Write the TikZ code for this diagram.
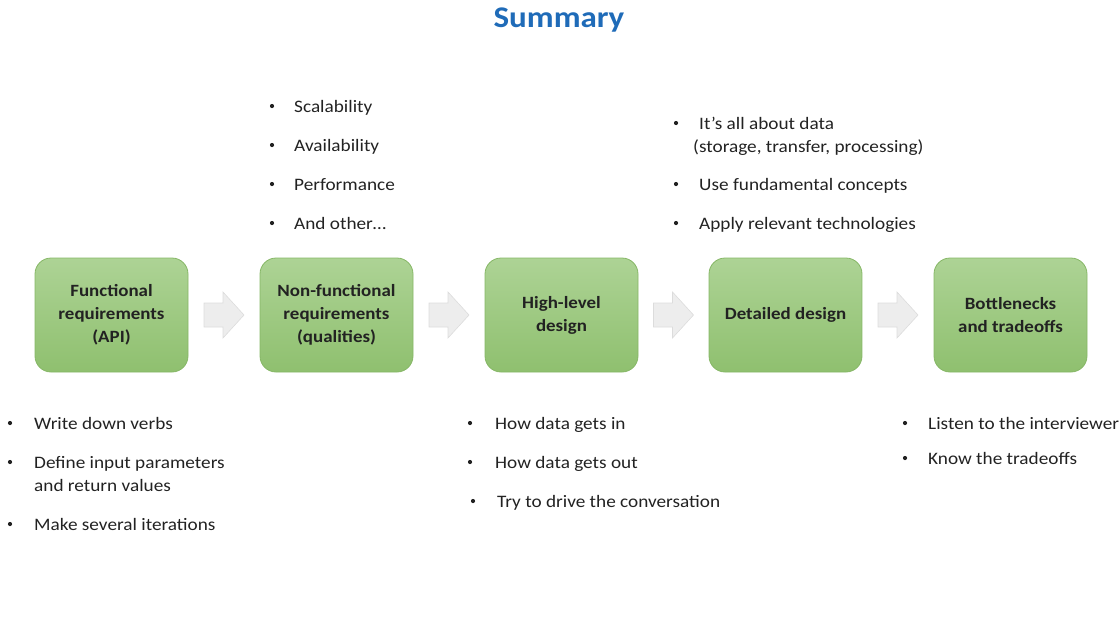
\documentclass[tikz,border=0pt]{standalone}
\usepackage{fontspec}
\setmainfont{Carlito}[FakeStretch=1.1]
\usetikzlibrary{calc}
\definecolor{titleblue}{HTML}{1F6BB8}
\definecolor{boxtop}{HTML}{ADD395}
\definecolor{boxbot}{HTML}{8FC06F}
\definecolor{boxline}{HTML}{86B766}
\definecolor{arrfill}{HTML}{EDEDED}
\definecolor{arrline}{HTML}{DCDCDC}
\definecolor{ink}{HTML}{222222}
\tikzset{
  stagebox/.style={draw=boxline, line width=0.8pt, rounded corners=16pt,
    top color=boxtop, bottom color=boxbot, minimum width=153pt,
    minimum height=114pt, align=center, text=ink,
    font=\fontsize{17.2}{23}\selectfont\bfseries, inner sep=0pt},
  item/.style={anchor=base west, inner sep=0pt, text=ink,
    font=\fontsize{17.5}{20}\selectfont},
  bulletdot/.style={fill=ink},
  blockarrow/.pic={
    \draw[fill=arrfill, draw=arrline, line width=0.6pt]
      (-20,-12) -- (-1,-12) -- (-1,-23) -- (20,0) -- (-1,23) -- (-1,12) -- (-20,12) -- cycle;
  }
}
% bullet dot at (x, y)
\newcommand{\bul}[2]{\fill[bulletdot] (#1,#2) circle (2.1pt);}
\begin{document}
\begin{tikzpicture}[x=1pt, y=-1pt]
\useasboundingbox (0,0) rectangle (1119,625);

% title
\node[text=titleblue, font=\fontsize{30}{32}\selectfont\bfseries] (title) at (559,20) {Summary};

% stages
\node[stagebox] (s1) at (111.5,315) {Functional\\requirements\\(API)};
\node[stagebox] (s2) at (336.5,315) {Non-functional\\requirements\\(qualities)};
\node[stagebox] (s3) at (561.5,315) {High-level\\design};
\node[stagebox] (s4) at (785.5,315) {Detailed design};
\node[stagebox] (s5) at (1010.5,315) {Bottlenecks\\and tradeoffs};

% block arrows between stages
\pic at ($(s1.east)!0.5!(s2.west)$) {blockarrow};
\pic at ($(s2.east)!0.5!(s3.west)$) {blockarrow};
\pic at ($(s3.east)!0.5!(s4.west)$) {blockarrow};
\pic at ($(s4.east)!0.5!(s5.west)$) {blockarrow};

% notes above non-functional requirements
\bul{272}{106} \node[item] (n21) at (294,112) {Scalability};
\bul{272}{145} \node[item] (n22) at (294,151) {Availability};
\bul{272}{184} \node[item] (n23) at (294,190) {Performance};
\bul{272}{223} \node[item] (n24) at (294,229) {And other…};

% notes above detailed design
\bul{676}{123} \node[item] (n41) at (699,129) {It’s all about data};
\node[item] (n41b) at (693,152) {(storage, transfer, processing)};
\bul{676}{184} \node[item] (n42) at (699,190) {Use fundamental concepts};
\bul{676}{223} \node[item] (n43) at (699,229) {Apply relevant technologies};

% notes below functional requirements
\bul{10}{423} \node[item] (n11) at (34,429) {Write down verbs};
\bul{10}{462} \node[item] (n12) at (34,468) {Define input parameters};
\node[item] (n12b) at (34,491) {and return values};
\bul{10}{524} \node[item] (n13) at (34,530) {Make several iterations};

% notes below high-level design
\bul{470}{423} \node[item] (n31) at (495,429) {How data gets in};
\bul{470}{462} \node[item] (n32) at (495,468) {How data gets out};
\bul{473}{501} \node[item] (n33) at (497,507) {Try to drive the conversation};

% notes below bottlenecks
\bul{905}{423} \node[item] (n51) at (928,429) {Listen to the interviewer};
\bul{905}{458} \node[item] (n52) at (928,464) {Know the tradeoffs};
\end{tikzpicture}
\end{document}
